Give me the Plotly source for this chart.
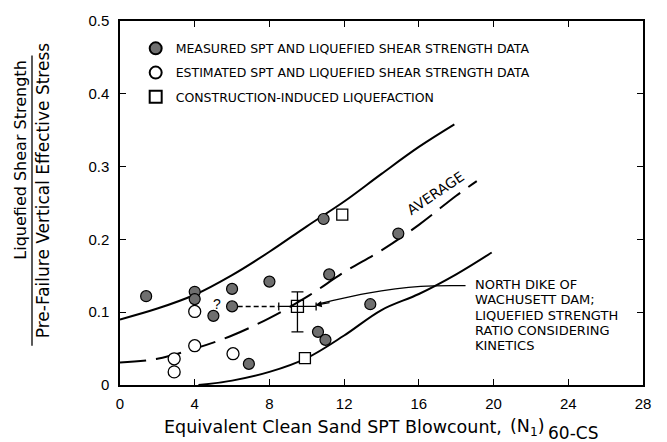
import plotly.graph_objects as go

# Measured SPT and liquefied shear strength data (filled circles)
meas_x = [1.4, 4.0, 4.0, 5.0, 6.0, 6.0, 6.9, 8.0, 10.6, 10.9, 11.0, 11.2, 13.4, 14.9]
meas_y = [0.122, 0.128, 0.118, 0.095, 0.132, 0.108, 0.029, 0.142, 0.073, 0.228, 0.062, 0.152, 0.111, 0.208]

# Estimated data (open circles)
est_x = [2.9, 2.9, 4.0, 4.0, 6.05]
est_y = [0.036, 0.018, 0.101, 0.054, 0.043]

# Construction-induced liquefaction (open squares)
con_x = [9.9, 11.9]
con_y = [0.037, 0.234]

# North Dike of Wachusett Dam (square with error bars)
nd_x = [9.5]
nd_y = [0.108]
nd_ex = [1.0]
nd_ey_plus = [0.02]
nd_ey_minus = [0.035]
nd_link_x = [6.3, 8.5]
nd_link_y = [0.108, 0.108]

# Curves (vertices)
upper_x = [0, 2, 4, 6, 8, 10, 12, 14, 16, 17.9]
upper_y = [0.090, 0.105, 0.124, 0.151, 0.183, 0.218, 0.252, 0.290, 0.327, 0.358]
avg_x = [0, 2, 4, 6, 8, 10, 12, 14, 16, 18, 19.1]
avg_y = [0.031, 0.036, 0.050, 0.068, 0.092, 0.121, 0.155, 0.185, 0.220, 0.260, 0.280]
lower_x = [4.2, 6, 8, 10, 12, 14, 16, 18, 19.9]
lower_y = [0.0, 0.006, 0.018, 0.037, 0.068, 0.103, 0.125, 0.152, 0.182]

leader_x = [18.5, 16.1, 13.2, 11.2, 10.6]
leader_y = [0.1365, 0.1355, 0.126, 0.115, 0.1115]

x_ticks = [0, 4, 8, 12, 16, 20, 24, 28]
y_ticks = [0, 0.1, 0.2, 0.3, 0.4, 0.5]
y_tick_text = ["0", "0.1", "0.2", "0.3", "0.4", "0.5"]

note_lines = ["NORTH DIKE OF", "WACHUSETT DAM;", "LIQUEFIED STRENGTH", "RATIO CONSIDERING", "KINETICS"]
x_title_parts = ["Equivalent Clean Sand SPT Blowcount,", "(N<sub>1</sub>)", "60-CS"]

FONT = "Liberation Sans, Arial, Helvetica, sans-serif"
WIDE = "DejaVu Sans, Liberation Sans, sans-serif"

# plot area in pixels: x 120..643, y 15..385
L, R, T, B = 120, 24, 15, 57
W, H = 667, 442
PW, PH = W - L - R, H - T - B


def px_x(p):
    return (p - L) / PW


def px_y(p):
    return (H - B - p) / PH


fig = go.Figure()

fig.add_trace(go.Scatter(x=upper_x, y=upper_y, mode="lines", line=dict(color="black", width=2, shape="spline"), showlegend=False, hoverinfo="skip"))
fig.add_trace(go.Scatter(x=avg_x, y=avg_y, mode="lines", line=dict(color="black", width=2, shape="spline", dash="26px,10px"), showlegend=False, hoverinfo="skip"))
fig.add_trace(go.Scatter(x=lower_x, y=lower_y, mode="lines", line=dict(color="black", width=2, shape="spline"), showlegend=False, hoverinfo="skip"))
fig.add_trace(go.Scatter(x=leader_x, y=leader_y, mode="lines", line=dict(color="black", width=1.3, shape="spline"), showlegend=False, hoverinfo="skip"))
fig.add_trace(go.Scatter(x=nd_link_x, y=nd_link_y, mode="lines", line=dict(color="black", width=1.5, dash="5px,3px"), showlegend=False, hoverinfo="skip"))

fig.add_trace(go.Scatter(
    x=nd_x, y=nd_y, mode="markers",
    marker=dict(symbol="square-open", size=12, color="black", line=dict(width=1.3)),
    error_x=dict(type="data", array=nd_ex, color="black", thickness=1.3, width=4),
    error_y=dict(type="data", array=nd_ey_plus, arrayminus=nd_ey_minus, color="black", thickness=1.3, width=6),
    showlegend=False, hoverinfo="skip"))

fig.add_trace(go.Scatter(
    x=meas_x, y=meas_y, mode="markers", name="MEASURED SPT AND LIQUEFIED SHEAR STRENGTH DATA",
    legendgroup="a",
    marker=dict(symbol="circle", size=11, color="#6f6f6f", line=dict(color="black", width=1.2))))
fig.add_trace(go.Scatter(
    x=est_x, y=est_y, mode="markers", name="ESTIMATED SPT AND LIQUEFIED SHEAR STRENGTH DATA",
    legendgroup="b",
    marker=dict(symbol="circle", size=12, color="white", line=dict(color="black", width=1.3))))
fig.add_trace(go.Scatter(
    x=con_x, y=con_y, mode="markers", name="CONSTRUCTION-INDUCED LIQUEFACTION",
    legendgroup="c",
    marker=dict(symbol="square", size=11, color="white", line=dict(color="black", width=1.3))))

fig.add_annotation(x=10.45, y=0.1095, ax=11.3, ay=0.1135, xref="x", yref="y", axref="x", ayref="y",
                   text="", showarrow=True, arrowhead=2, arrowsize=1, arrowwidth=1.3, arrowcolor="black")

fig.add_annotation(x=5.2, y=0.111, xref="x", yref="y", text="?", showarrow=False,
                   font=dict(family=FONT, size=14, color="black"))
fig.add_annotation(x=16.9, y=0.2635, xref="x", yref="y", text="AVERAGE", showarrow=False, textangle=-34,
                   xanchor="center", yanchor="middle",
                   font=dict(family=WIDE, size=14, color="black"))

note_y_px = [283, 298.5, 314, 329.5, 345]
for txt, py in zip(note_lines, note_y_px):
    fig.add_annotation(x=px_x(473), y=px_y(py), xref="paper", yref="paper", xanchor="left", yanchor="middle",
                       text=txt, showarrow=False, font=dict(family=WIDE, size=13, color="black"))

# X axis title (main text, then the (N1) and its 60-CS subscript), left-anchored pieces
x_part_px = [162, 508, 546]
x_part_py = [428, 428, 434]
x_part_size = [17.5, 17.5, 17]
for txt, px, py, sz in zip(x_title_parts, x_part_px, x_part_py, x_part_size):
    fig.add_annotation(x=px_x(px), y=px_y(py), xref="paper", yref="paper", xanchor="left", yanchor="middle",
                       text=txt, showarrow=False, font=dict(family=WIDE, size=sz, color="black"))

# Y axis title as a fraction
fig.add_annotation(x=px_x(21), y=px_y(157), xref="paper", yref="paper", showarrow=False, textangle=-90,
                   xanchor="center", yanchor="middle",
                   text="Liquefied Shear Strength", font=dict(family=WIDE, size=16, color="black"))
fig.add_annotation(x=px_x(43), y=px_y(188), xref="paper", yref="paper", showarrow=False, textangle=-90,
                   xanchor="center", yanchor="middle",
                   text="Pre-Failure Vertical Effective Stress", font=dict(family=WIDE, size=17, color="black"))
fig.add_shape(type="line", xref="paper", yref="paper", x0=px_x(32), x1=px_x(32), y0=px_y(50), y1=px_y(345),
              line=dict(color="black", width=1.3))

axis_common = dict(showline=True, linecolor="black", linewidth=1.5, mirror="ticks", ticks="inside",
                   ticklen=6, tickwidth=1.3, tickcolor="black", showgrid=False, zeroline=False,
                   tickfont=dict(family=FONT, size=15, color="black"))
fig.update_xaxes(range=[0, 28], tickvals=x_ticks, ticklabelstandoff=4, **axis_common)
fig.update_yaxes(range=[0, 0.5], tickvals=y_ticks, ticktext=y_tick_text, ticklabelstandoff=6, **axis_common)

fig.update_layout(
    width=W, height=H,
    margin=dict(l=L, r=R, t=T, b=B),
    paper_bgcolor="white", plot_bgcolor="white",
    font=dict(family=FONT, color="black"),
    legend=dict(x=0.03, y=0.965, xanchor="left", yanchor="top", bgcolor="rgba(0,0,0,0)",
                font=dict(family=WIDE, size=12.5, color="black"), tracegroupgap=5,
                itemsizing="constant"),
)

fig.write_html("out.html")
